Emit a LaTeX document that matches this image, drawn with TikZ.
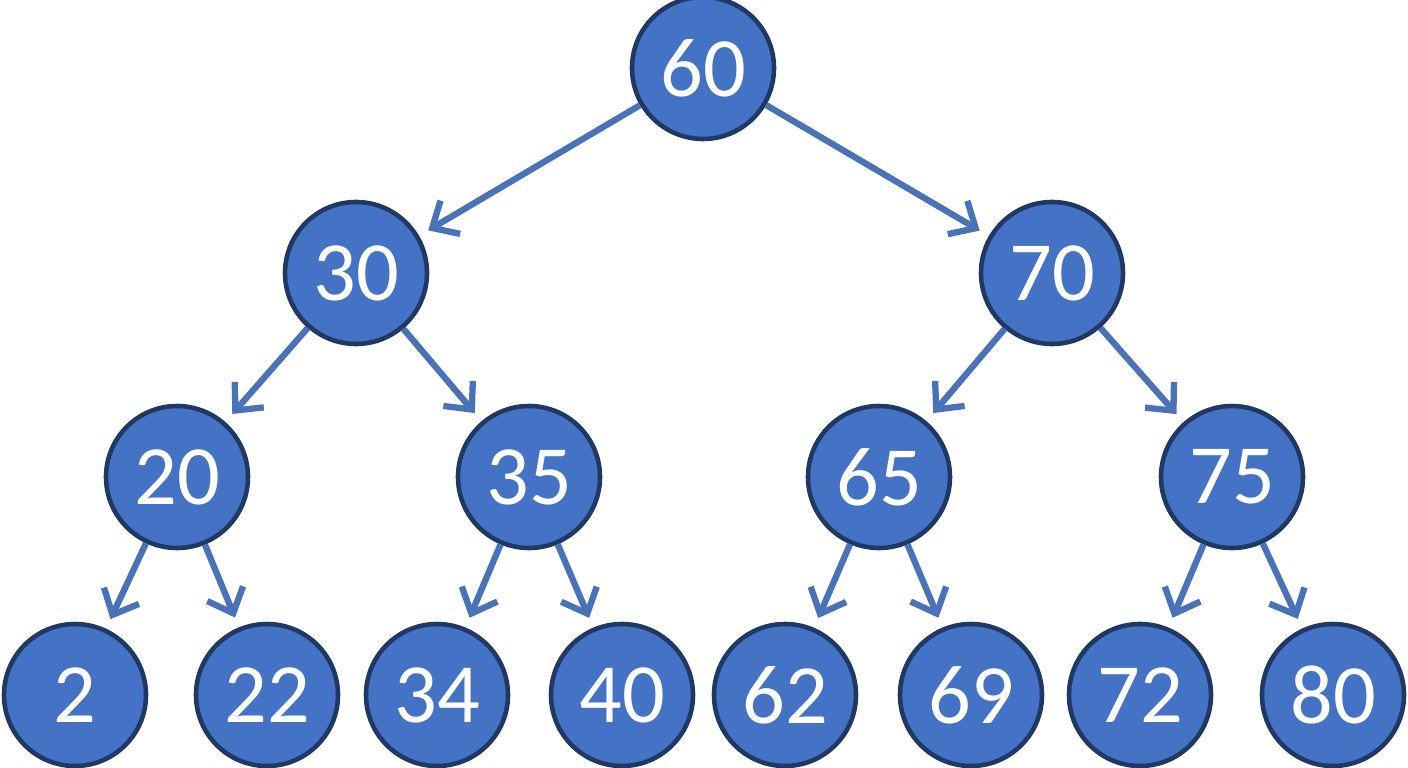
\documentclass[tikz,border=0pt]{standalone}
\usepackage{fontspec}
\setmainfont{Carlito}
\usetikzlibrary{arrows.meta}
\definecolor{nodefill}{HTML}{4472C4}
\definecolor{nodeline}{HTML}{1F3864}
\definecolor{edgeblue}{HTML}{4A72B8}
\tikzset{
	key/.style={circle, draw=nodeline, line width=1.3pt, fill=nodefill, minimum size=1.42cm, inner sep=0pt, text=white, font=\fontsize{24}{28}\selectfont},
	link/.style={draw=edgeblue, line width=1.8pt, -{Straight Barb[length=6pt,width=11pt]}, shorten >=3pt}
}
\begin{document}
\begin{tikzpicture}
	\useasboundingbox (0,0) rectangle (14.08,-7.68);
	%root and inner keys
	\node[key] (k60) at (7.03,-0.68) {60};
	\node[key] (k30) at (3.56,-2.73) {30};
	\node[key] (k70) at (10.52,-2.73) {70};
	\node[key] (k20) at (1.77,-4.77) {20};
	\node[key] (k35) at (5.29,-4.77) {35};
	\node[key] (k65) at (8.79,-4.77) {65};
	\node[key] (k75) at (12.32,-4.77) {75};
	%leaves
	\node[key] (k2)  at (0.75,-6.95) {2};
	\node[key] (k22) at (2.67,-6.95) {22};
	\node[key] (k34) at (4.37,-6.95) {34};
	\node[key] (k40) at (6.22,-6.95) {40};
	\node[key] (k62) at (7.85,-6.95) {62};
	\node[key] (k69) at (9.71,-6.95) {69};
	\node[key] (k72) at (11.40,-6.95) {72};
	\node[key] (k80) at (13.33,-6.95) {80};
	
	%links
	\draw[link] (k60) -- (k30);
	\draw[link] (k60) -- (k70);
	\draw[link] (k30) -- (k20);
	\draw[link] (k30) -- (k35);
	\draw[link] (k70) -- (k65);
	\draw[link] (k70) -- (k75);
	\draw[link] (k20) -- (k2);
	\draw[link] (k20) -- (k22);
	\draw[link] (k35) -- (k34);
	\draw[link] (k35) -- (k40);
	\draw[link] (k65) -- (k62);
	\draw[link] (k65) -- (k69);
	\draw[link] (k75) -- (k72);
	\draw[link] (k75) -- (k80);
\end{tikzpicture}
\end{document}
